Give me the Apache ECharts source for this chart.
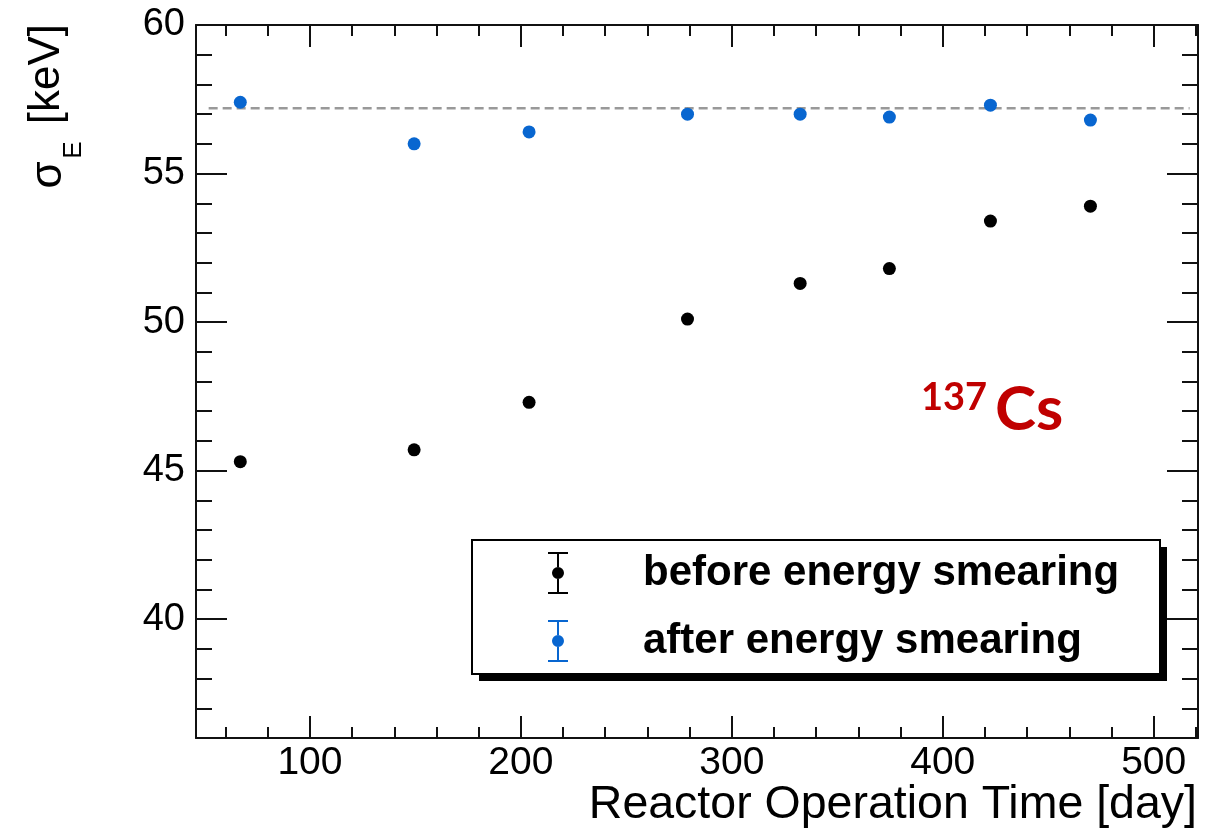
<!DOCTYPE html>
<html><head><meta charset="utf-8">
<script src="https://cdn.jsdelivr.net/npm/echarts@6/dist/echarts.min.js"></script>
<style>html,body{margin:0;padding:0;background:#fff}#c{width:1221px;height:831px}</style>
</head><body><div id="c"></div>
<script>
// ---- data ----
const days   = [67, 149.4, 203.9, 279, 332.4, 374.7, 422.6, 470];
const before = [45.3, 45.7, 47.3, 50.1, 51.3, 51.8, 53.4, 53.9];
const after  = [57.4, 56.0, 56.4, 57.0, 57.0, 56.9, 57.3, 56.8];
const refLevel = 57.2;
const refSpan  = [52, 517];
const seriesNames = ['before energy smearing', 'after energy smearing'];
const xMajor = [100, 200, 300, 400, 500];
const xMinor = [60, 80, 120, 140, 160, 180, 220, 240, 260, 280, 320, 340, 360, 380, 420, 440, 460, 480, 520];
const yMajor = [40, 45, 50, 55, 60];
const yMinor = [37, 38, 39, 41, 42, 43, 44, 46, 47, 48, 49, 51, 52, 53, 54, 56, 57, 58, 59];
const xRange = [46, 521];
const yRange = [36, 60];

const AX = '#111';
const FONT = "'Liberation Sans', Arial, sans-serif";

function xAx(pos, ticks, len, labels, line) {
  return {
    type: 'value', position: pos, min: xRange[0], max: xRange[1],
    axisLine: {show: line, onZero: false, lineStyle: {color: AX, width: 2}},
    axisTick: {show: true, inside: true, length: len, customValues: ticks, lineStyle: {color: AX, width: 2}},
    axisLabel: labels ? {show: true, customValues: ticks, color: '#000', fontSize: 39, fontFamily: FONT, margin: 6} : {show: false},
    splitLine: {show: false}
  };
}
function yAx(pos, ticks, len, labels, line) {
  return {
    type: 'value', position: pos, min: yRange[0], max: yRange[1],
    axisLine: {show: line, onZero: false, lineStyle: {color: AX, width: 2}},
    axisTick: {show: true, inside: true, length: len, customValues: ticks, lineStyle: {color: AX, width: 2}},
    axisLabel: labels ? {show: true, customValues: ticks, color: '#000', fontSize: 38, fontFamily: FONT, margin: 11} : {show: false},
    splitLine: {show: false}
  };
}

const iconPath = 'path://M0,0H20V2H11V15H9V2H0Z M9,27H11V40H20V42H0V40H9Z M16,21A6,6 0 1 1 4,21A6,6 0 1 1 16,21Z';

const chart = echarts.init(document.getElementById('c'), null, {renderer: 'canvas'});
chart.setOption({
  animation: false,
  backgroundColor: '#fff',
  grid: {left: 196, right: 23, top: 25, bottom: 93, containLabel: false},
  xAxis: [
    xAx('bottom', xMajor, 22, true, true),
    xAx('bottom', xMinor, 11, false, false),
    xAx('top', xMajor, 22, false, true),
    xAx('top', xMinor, 11, false, false)
  ],
  yAxis: [
    yAx('left', yMajor, 31, true, true),
    yAx('left', yMinor, 16, false, false),
    yAx('right', yMajor, 31, false, true),
    yAx('right', yMinor, 16, false, false)
  ],
  legend: {
    show: true, orient: 'vertical', left: 548, top: 552, padding: 0, itemGap: 26,
    itemWidth: 20, itemHeight: 42, selectedMode: false, z: 10,
    textStyle: {fontSize: 42, fontWeight: 'bold', fontFamily: FONT, color: '#000', lineHeight: 42, padding: [0, 0, 0, 70]},
    data: [
      {name: seriesNames[0], icon: iconPath},
      {name: seriesNames[1], icon: iconPath}
    ]
  },
  graphic: [
    {type: 'rect', z: 1, shape: {x: 479, y: 547, width: 688, height: 134}, style: {fill: '#000'}},
    {type: 'rect', z: 2, shape: {x: 472, y: 540, width: 688, height: 134}, style: {fill: '#fff', stroke: '#000', lineWidth: 2}},
    {type: 'text', z: 3, x: 921, y: 398, style: {text: '137', fill: '#C00000', font: "bold 38px Lato, 'Open Sans', sans-serif", align: 'left', verticalAlign: 'middle'}},
    {type: 'text', z: 3, x: 995, y: 410, style: {text: 'Cs', fill: '#C00000', font: "bold 62px Lato, 'Open Sans', sans-serif", align: 'left', verticalAlign: 'middle'}},
    {type: 'text', z: 3, x: 1197, y: 805, style: {text: 'Reactor Operation Time [day]', fill: '#000', font: "46.5px 'Liberation Sans', Arial, sans-serif", align: 'right', verticalAlign: 'middle'}},
    {type: 'text', z: 3, x: 47, y: 24, rotation: Math.PI / 2,
      style: {text: '[keV]', fill: '#000', font: "44px 'Liberation Sans', Arial, sans-serif", align: 'right', verticalAlign: 'middle'}},
    {type: 'text', z: 3, x: 74, y: 150, rotation: Math.PI / 2,
      style: {text: 'E', fill: '#000', font: "26px 'Liberation Sans', Arial, sans-serif", align: 'center', verticalAlign: 'middle'}},
    {type: 'text', z: 3, x: 49, y: 175, rotation: Math.PI / 2,
      style: {text: 'σ', fill: '#000', font: "44px 'Liberation Sans', Arial, sans-serif", align: 'center', verticalAlign: 'middle'}}
  ],
  series: [
    {
      name: 'reference', type: 'line', xAxisIndex: 0, yAxisIndex: 0, symbol: 'none', silent: true, z: 2,
      lineStyle: {color: '#999999', width: 2.5, type: [9, 5]},
      data: [[refSpan[0], refLevel], [refSpan[1], refLevel]]
    },
    {
      name: seriesNames[0], type: 'scatter', xAxisIndex: 0, yAxisIndex: 0, symbol: 'circle', symbolSize: 13, z: 3,
      itemStyle: {color: '#000', opacity: 1},
      data: days.map((d, i) => [d, before[i]])
    },
    {
      name: seriesNames[1], type: 'scatter', xAxisIndex: 0, yAxisIndex: 0, symbol: 'circle', symbolSize: 13, z: 3,
      itemStyle: {color: '#0866d0', opacity: 1},
      data: days.map((d, i) => [d, after[i]])
    }
  ]
});
</script>
</body></html>
